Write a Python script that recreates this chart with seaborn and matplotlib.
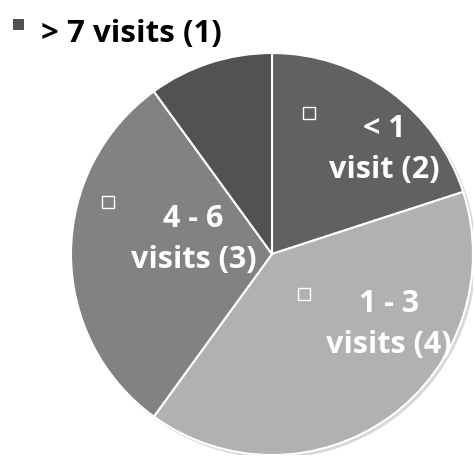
import matplotlib
matplotlib.use("Agg")
import matplotlib.pyplot as plt
import seaborn as sns

# ---- data ----
categories = ["< 1\nvisit (2)", "1 - 3\nvisits (4)", "4 - 6\nvisits (3)", "> 7 visits (1)"]
values = [2, 4, 3, 1]
colors = ["#616161", "#b1b1b1", "#828282", "#525252"]

# ---- layout (label positions in pie units, radius = 1) ----
label_pos = [(0.56, 0.52), (0.58, -0.35), (-0.39, 0.07), None]
marker_pos = [(0.184, 0.70), (0.159, -0.20), (-0.816, 0.26), None]

sns.set_style("white")
plt.rcParams["font.family"] = ["Open Sans", "DejaVu Sans"]

W, H = 475, 459
fig = plt.figure(figsize=(W / 100, H / 100), dpi=100)
cx, cy, R = 272, 254, 201
ax = fig.add_axes([(cx - R) / W, (H - cy - R) / H, 2 * R / W, 2 * R / H])

# subtle shadow
shadow = plt.Circle((0.012, -0.012), 1.0, color="#d8d8d8", zorder=0)
ax.add_patch(shadow)

ax.pie(values, colors=colors, startangle=90, counterclock=False, radius=1.0,
       wedgeprops=dict(edgecolor="white", linewidth=1.5))
ax.set_xlim(-1.0, 1.0)
ax.set_ylim(-1.0, 1.0)
ax.set_aspect("equal")
ax.axis("off")

for lab, lp, mp in zip(categories, label_pos, marker_pos):
    if lp is None:
        continue
    ax.text(lp[0], lp[1], lab, ha="center", va="center", color="white",
            fontsize=22, fontweight="bold", linespacing=1.48)
    ax.plot([mp[0]], [mp[1]], marker="s", markersize=9, markerfacecolor="none",
            markeredgecolor="white", markeredgewidth=1.0, linestyle="none")

# legend entry for the smallest slice, outside the pie
fig.text(41 / W, 1 - 34 / H, categories[3], ha="left", va="center",
         color="black", fontsize=22.5, fontweight="bold")
fig.patches.append(plt.Rectangle((13 / W, 1 - 30 / H), 11 / W, 11 / H,
                                 transform=fig.transFigure, facecolor=colors[3],
                                 edgecolor="none"))

fig.savefig("out.png", dpi=100)
